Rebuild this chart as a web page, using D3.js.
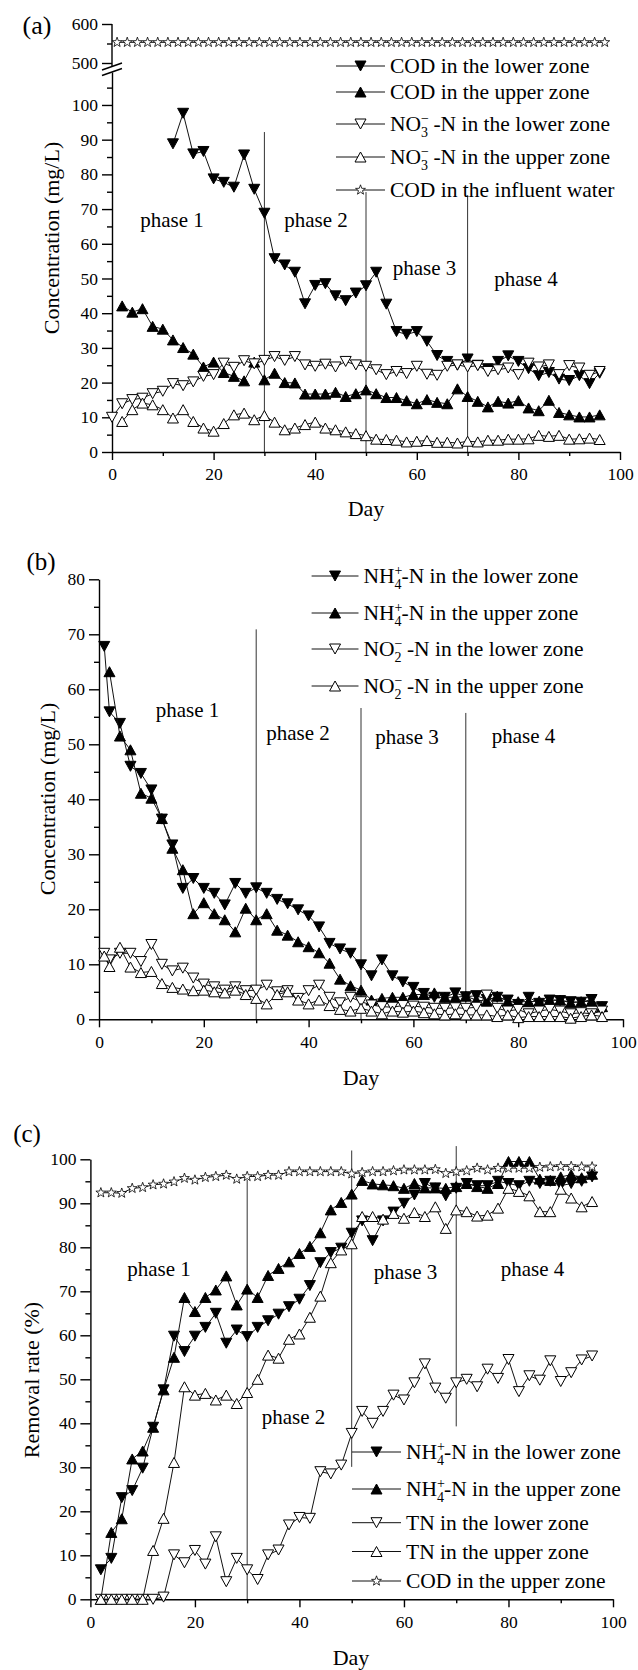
<!DOCTYPE html>
<html><head><meta charset="utf-8">
<script src="https://cdn.jsdelivr.net/npm/d3@7"></script>
<style>body{margin:0;background:#fff}svg{display:block}</style>
</head><body><svg id="c" width="638" height="1670"></svg>
<script>
// ---------------- DATA ----------------
// Panel (a) – concentrations (mg/L)
const aDaysCodLower = [12,14,16,18,20,22,24,26,28,30,32,34,36,38,40,42,44,46,48,50,52,54,56,58,60,62,64,66,68,70,72,74,76,78,80,82,84,86,88,90,92,94,96];
const aCodLower = [88.8,97.6,85.9,86.6,78.7,77.7,76.3,85.6,75.7,68.8,55.7,53.9,51.8,42.7,48,48.5,45,43.6,45.8,47.9,51.8,42.6,34.7,33.9,34.7,31.9,27.8,26.1,25,26.8,25,24,26.1,27.7,26.1,24,22,22.9,21,20.6,22,19.7,22.7];
const aDaysEven = [2,4,6,8,10,12,14,16,18,20,22,24,26,28,30,32,34,36,38,40,42,44,46,48,50,52,54,56,58,60,62,64,66,68,70,72,74,76,78,80,82,84,86,88,90,92,94,96];
const aCodUpper = [42.1,40.3,41.3,36.2,35.4,32.3,30.1,28.2,24.5,25.9,22.9,21.8,20.5,25.9,20.8,22.7,20,19.9,16.7,16.7,16.7,17.2,16,16.8,17.9,16.8,15.7,15.7,14.8,13.9,15.1,14.3,13.9,18.2,16,14.6,13,14.6,14.1,14.8,12.7,11.9,14.9,11.4,10.7,10.1,10.1,10.7];
const aDaysNo3Lower = [0,2,4,6,8,10,12,14,16,18,20,22,24,26,28,30,32,34,36,38,40,42,44,46,48,50,52,54,56,58,60,62,64,66,68,70,72,74,76,78,80,82,84,86,88,90,92,94,96];
const aNo3Lower = [10,13.9,15.1,15.5,16.8,17.5,19.7,19.1,20.2,21.8,22.3,25.6,24.4,26.3,25.4,26.4,27.5,26.4,27.5,25.1,24.7,25.3,24.5,26.1,25.1,24.7,23.7,22.3,23.2,22.6,24.7,22.4,22.1,24.7,25.1,24.5,24.9,23.2,23.7,24.2,22.3,25.6,24.5,25.1,22.3,24.9,24.2,22.1,23.2];
const aNo3Upper = [8.8,12.2,14.1,13.6,12.2,9.8,12.2,8.8,6.9,6,8.2,10.7,11.2,9.3,10.5,8.6,6.4,6.9,7.9,8.6,6.9,6.4,5.8,5.3,4.7,3.7,3.6,3.4,2.9,3.1,3.3,2.8,2.8,2.6,3.1,2.9,3.4,3.4,3.7,3.7,3.8,4.8,4.5,4.8,3.7,3.8,4,3.6];
const aDaysInf = [1,3,5,7,9,11,13,15,17,19,21,23,25,27,29,31,33,35,37,39,41,43,45,47,49,51,53,55,57,59,61,63,65,67,69,71,73,75,77,79,81,83,85,87,89,91,93,95,97];
const aCodInf = [553,553,553,553,553,553,553,553,553,553,553,553,553,553,553,553,553,553,553,553,553,553,553,553,553,553,553,553,553,553,553,553,553,553,553,553,553,553,553,553,553,553,553,553,553,553,553,553,553];

// Panel (b) – concentrations (mg/L)
const bDays = [1,2,4,6,8,10,12,14,16,18,20,22,24,26,28,30,32,34,36,38,40,42,44,46,48,50,52,54,56,58,60,62,64,66,68,70,72,74,76,78,80,82,84,86,88,90,92,94,96];
const bNh4Lower = [67.8,55.9,53.8,46,44.7,41.7,36.4,31.7,23.8,25.6,23.8,22.9,20.8,24.7,22.9,23.9,22.9,21.8,21,19.9,18.8,16.8,13.8,12.8,12,9.9,7.9,10.8,7.9,6.8,5.8,4.7,4,4,4.8,4.1,4.3,3.6,4,3.5,2.7,4,2.9,3.5,3.4,3.2,3.1,3.6,2.3];
const bDaysEven = [2,4,6,8,10,12,14,16,18,20,22,24,26,28,30,32,34,36,38,40,42,44,46,48,50,52,54,56,58,60,62,64,66,68,70,72,74,76,78,80,82,84,86,88,90,92,94,96];
const bNh4Upper = [63.2,51.5,49,41.1,40.2,36.5,31.1,27.2,19.2,21.2,19.2,18.1,15.9,20.2,18.1,19.2,16.2,15.3,14.1,13.2,12.1,10.2,7.3,6.1,5.3,3.5,3.8,4,4,4.5,4.5,4.8,4,4,4.2,3.5,3.3,4.2,3.3,3.2,3.2,3.3,3.5,3.5,3,3.2,3.3,2.3];
const bNo2Lower = [12,10.8,12,12,10.5,13.6,10,8.8,9.3,7.5,6.4,5.9,5.3,5.9,5.2,5.3,6.2,5,5.2,3.8,5.2,6.2,4,3,4,3.2,2.6,2.3,2.2,2.5,2.4,2.2,2,2,2.1,2,2.2,4.4,2,1.5,1.8,1,1.5,1.8,1.5,1,1.2,1,1.5];
const bNo2Upper = [11.5,9.6,13.1,9.5,8.5,8.7,6.5,5.8,5.5,5.2,5.3,5,4.8,5.3,4.5,3.8,2.8,4.5,5,3.5,2.8,3.5,2.5,1.8,1.5,2,1.5,1,1.5,1.3,1.5,1.2,1,0.8,1,0.8,0.8,0.8,0.5,0.8,0.3,0.5,0.5,0.5,0.5,0.2,0.5,0.8,0.5];

// Panel (c) – removal rates (%)
const cDays = [2,4,6,8,10,12,14,16,18,20,22,24,26,28,30,32,34,36,38,40,42,44,46,48,50,52,54,56,58,60,62,64,66,68,70,72,74,76,78,80,82,84,86,88,90,92,94,96];
const cNh4Lower = [6.7,9.3,23.1,24.7,29.8,39.1,47.6,59.8,56.3,59.8,61.8,65,58.2,61.2,59.7,61.8,63.3,64.8,66.5,68.2,71.3,76.5,78.8,79.8,83.2,86,81.5,86,88,90,91.9,94.5,93.5,91.7,93.4,94.5,94,94,95,94.5,94,95,94.5,95,94,94.5,95,96];
const cNh4Upper = [0,15.2,18.3,31.9,33.7,39.1,47.6,55,68.6,65.4,68.6,70.3,73.5,66.9,70.5,68.6,73.6,75.2,76.7,78.6,80.2,83.3,88.5,90.2,92.1,95.2,94.4,94.2,94,93.4,94.5,93.5,93.5,93.4,93.8,94.5,93.8,93.4,94.5,99.5,99.5,99.5,95.5,95.2,96,96.5,95.8,96.6];
const cTnLower = [0,0,0,0,0,0,0.5,10.1,8.3,11.1,8,14.2,4,9.3,6.7,4.5,10.1,11.2,16.9,18.6,18.4,29,28.5,30.5,37.7,42.7,40,42.7,46.4,45.3,49.2,53.5,48,45.7,49.2,50,48.3,52.3,50.2,54.5,47.2,50.8,49.8,54.2,49.5,51.5,54.4,55.3];
const cTnUpper = [0,0,0,0,0,11.1,18.4,31.1,48.3,46.4,46.8,45.3,46.4,44.5,47,50,55.5,54.8,59.1,60.3,64.1,68.9,76.5,79.4,80.8,87,87,86.4,87.7,86.6,87.9,87,89.2,84.3,88.5,88.1,87.1,87.3,88.9,93.4,92.7,91.7,88.1,88.1,93.2,91.2,89.2,90.4];
const cCodUpper = [92.4,92.4,92.3,93.4,93.6,94.2,94.4,94.9,95.7,95.3,95.9,96.1,96.4,95.5,96.1,96.1,96.4,96.4,97.2,97.2,97.2,97.2,97.2,97.2,96.7,97,97.2,97.2,97.4,97.6,97.6,97.6,97.7,96.8,97.2,97.4,98,97.6,98,98,98,98,98.2,98.3,98.4,98.4,98.3,98.3];

// Axis ticks
const xMajor = [0,20,40,60,80,100];
const xMinor = [10,30,50,70,90];
const aYMajor = [0,10,20,30,40,50,60,70,80,90,100];
const aYMinor = [5,15,25,35,45,55,65,75,85,95,105];
const aYHighMajor = [500,600];
const aYHighMinor = [550];
const bYMajor = [0,10,20,30,40,50,60,70,80];
const bYMinor = [5,15,25,35,45,55,65,75];
const cYMajor = [0,10,20,30,40,50,60,70,80,90,100];
const cYMinor = [5,15,25,35,45,55,65,75,85,95];
const phaseDays = [30,50,70];

// ---------------- DRAWING ----------------
const FONT = "'Liberation Serif','Times New Roman',serif";
const svg = d3.select('#c');
svg.append('rect').attr('width',638).attr('height',1670).attr('fill','#fff');

const W = 11, H = 10;
const SYM = {
  down: `M0,${H/2}L${W/2},${-H/2}L${-W/2},${-H/2}Z`,
  up: `M0,${-H/2}L${W/2},${H/2}L${-W/2},${H/2}Z`,
  star: (() => { const pts=[]; for(let i=0;i<10;i++){const r=i%2?2.1:5.2; const a=-Math.PI/2+i*Math.PI/5; pts.push([r*Math.cos(a), r*Math.sin(a)]);} return 'M'+pts.map(p=>p[0].toFixed(2)+','+p[1].toFixed(2)).join('L')+'Z'; })()
};

function series(g, x, y, days, vals, sym, filled) {
  const pts = days.map((d,i)=>[d, vals[i]]);
  g.append('path').datum(pts)
    .attr('d', d3.line().x(p=>x(p[0])).y(p=>y(p[1])))
    .attr('fill','none').attr('stroke','#111').attr('stroke-width',1);
  g.append('g').selectAll('path').data(pts).join('path')
    .attr('transform', p=>`translate(${x(p[0])},${y(p[1])})`)
    .attr('d', SYM[sym])
    .attr('fill', filled ? '#000' : '#fff')
    .attr('stroke','#000').attr('stroke-width', sym==='star'?0.8:1);
}

function styleAxis(g) {
  g.attr('font-family', FONT).attr('font-size', 17.5);
  g.selectAll('path,line').attr('stroke','#000').attr('stroke-width',1.4);
  g.selectAll('text').attr('fill','#000');
}

function xAxis(g, x, y0) {
  const ga = g.append('g').attr('transform',`translate(0,${y0})`);
  ga.call(d3.axisBottom(x).tickValues(xMajor).tickSize(8).tickSizeOuter(0).tickFormat(d3.format('d')));
  ga.append('g').call(d3.axisBottom(x).tickValues(xMinor).tickSize(4).tickFormat('')).select('.domain').remove();
  styleAxis(ga);
  ga.selectAll('text').attr('y',16).attr('dy','0.71em');
}
function yAxis(g, y, x0, majors, minors) {
  const ga = g.append('g').attr('transform',`translate(${x0},0)`);
  ga.call(d3.axisLeft(y).tickValues(majors).tickSize(10).tickPadding(4).tickSizeOuter(0).tickFormat(d3.format('d')));
  ga.append('g').call(d3.axisLeft(y).tickValues(minors).tickSize(5).tickFormat('')).select('.domain').remove();
  styleAxis(ga);
  return ga;
}

function label(g, txt, x, y, size, opts={}) {
  const t = g.append('text').attr('x',x).attr('y',y).attr('font-family',FONT).attr('font-size',size)
    .attr('fill','#000').attr('text-anchor', opts.anchor||'middle').text(txt);
  if (opts.rotate) t.attr('transform',`rotate(-90,${x},${y})`);
  return t;
}

function legendRow(g, lx0, lx1, y, sym, filled, parts) {
  g.append('line').attr('x1',lx0).attr('x2',lx1).attr('y1',y).attr('y2',y).attr('stroke','#111').attr('stroke-width',1);
  const mx = (lx0+lx1)/2;
  g.append('path').attr('transform',`translate(${mx},${y})`).attr('d',SYM[sym])
    .attr('fill',filled?'#000':'#fff').attr('stroke','#000').attr('stroke-width',sym==='star'?0.8:1);
  const t = g.append('text').attr('x',lx1+5).attr('y',y+7).attr('font-family',FONT).attr('font-size',21.5).attr('fill','#000');
  parts.forEach(p => {
    if (typeof p === 'string') { t.append('tspan').text(p); }
    else {
      // stacked superscript / subscript
      t.append('tspan').attr('dy',-8).attr('font-size',14).text(p.sup);
      t.append('tspan').attr('dx',-7.9).attr('dy',14).attr('font-size',14).text(p.sub);
      t.append('tspan').attr('dy',-6).text(p.after);
    }
  });
}

function phaseLines(g, x, y, tops, bottoms) {
  phaseDays.forEach((d,i)=>{
    g.append('line').attr('x1',x(d)).attr('x2',x(d)).attr('y1',y(tops[i])).attr('y2',y(bottoms[i]))
      .attr('stroke','#333').attr('stroke-width',1);
  });
}

// ===== Panel (a) =====
{
  const g = svg.append('g');
  const x = d3.scaleLinear([0,100],[112,620]);
  const y = d3.scaleLinear([0,109.5],[452,72]);
  const yH = d3.scaleLinear([500,600],[63,24]);
  phaseLines(g, x, y, [92.2,74.9,74], [0,0,0]);
  xAxis(g, x, 452);
  yAxis(g, y, 112, aYMajor, aYMinor);
  const gh = yAxis(g, yH, 112, aYHighMajor, aYHighMinor);
  gh.select('.domain').attr('d', `M0,${yH(600)}V66.5`);
  // axis break marks
  g.append('line').attr('x1',102).attr('y1',70).attr('x2',122).attr('y2',63).attr('stroke','#000').attr('stroke-width',1.4);
  g.append('line').attr('x1',102).attr('y1',75.5).attr('x2',122).attr('y2',68.5).attr('stroke','#000').attr('stroke-width',1.4);

  series(g, x, y, aDaysCodLower, aCodLower, 'down', true);
  series(g, x, y, aDaysEven, aCodUpper, 'up', true);
  series(g, x, y, aDaysNo3Lower, aNo3Lower, 'down', false);
  series(g, x, y, aDaysEven, aNo3Upper, 'up', false);
  series(g, x, yH, aDaysInf, aCodInf, 'star', false);

  label(g, 'phase 1', 172, 227, 21);
  label(g, 'phase 2', 316, 227, 21);
  label(g, 'phase 3', 424.5, 275, 21);
  label(g, 'phase 4', 526, 286, 21);
  label(g, 'Day', 366, 516, 22);
  label(g, 'Concentration (mg/L)', 59, 238, 22, {rotate:true});
  label(g, '(a)', 37, 34, 26);

  const L = g.append('g');
  legendRow(L, 336, 385, 66, 'down', true, ['COD in the lower zone']);
  legendRow(L, 336, 385, 92, 'up', true, ['COD in the upper zone']);
  legendRow(L, 336, 385, 124, 'down', false, ['NO', {sup:'−', sub:'3', after:' -N in the lower zone'}]);
  legendRow(L, 336, 385, 157, 'up', false, ['NO', {sup:'−', sub:'3', after:' -N in the upper zone'}]);
  legendRow(L, 336, 385, 190, 'star', false, ['COD in the influent water']);
}

// ===== Panel (b) =====
{
  const g = svg.append('g');
  const x = d3.scaleLinear([0,100],[99,623]);
  const y = d3.scaleLinear([0,80],[1019.3,579.3]);
  phaseLines(g, x, y, [70.9,56.6,55.7], [0,0,0]);
  xAxis(g, x, 1019.3);
  yAxis(g, y, 99, bYMajor, bYMinor);

  series(g, x, y, bDays, bNh4Lower, 'down', true);
  series(g, x, y, bDaysEven, bNh4Upper, 'up', true);
  series(g, x, y, bDays, bNo2Lower, 'down', false);
  series(g, x, y, bDays, bNo2Upper, 'up', false);

  label(g, 'phase 1', 187.5, 717, 21);
  label(g, 'phase 2', 298, 740, 21);
  label(g, 'phase 3', 407, 744, 21);
  label(g, 'phase 4', 523.5, 743, 21);
  label(g, 'Day', 361, 1085, 22);
  label(g, 'Concentration (mg/L)', 55, 799, 22, {rotate:true});
  label(g, '(b)', 41, 570, 25);

  const L = g.append('g');
  legendRow(L, 311.6, 358.5, 576, 'down', true, ['NH', {sup:'+', sub:'4', after:'-N in the lower zone'}]);
  legendRow(L, 311.6, 358.5, 613, 'up', true, ['NH', {sup:'+', sub:'4', after:'-N in the upper zone'}]);
  legendRow(L, 311.6, 358.5, 649, 'down', false, ['NO', {sup:'−', sub:'2', after:' -N in the lower zone'}]);
  legendRow(L, 311.6, 358.5, 686, 'up', false, ['NO', {sup:'−', sub:'2', after:' -N in the upper zone'}]);
}

// ===== Panel (c) =====
{
  const g = svg.append('g');
  const x = d3.scaleLinear([0,100],[90.4,613]);
  const y = d3.scaleLinear([0,100],[1599.3,1159.3]);
  phaseLines(g, x, y, [95.3,102,103], [0,30.1,39.3]);
  xAxis(g, x, 1599.3);
  yAxis(g, y, 90.4, cYMajor, cYMinor);

  series(g, x, y, cDays, cNh4Lower, 'down', true);
  series(g, x, y, cDays, cNh4Upper, 'up', true);
  series(g, x, y, cDays, cTnLower, 'down', false);
  series(g, x, y, cDays, cTnUpper, 'up', false);
  series(g, x, y, cDays, cCodUpper, 'star', false);

  label(g, 'phase 1', 159, 1276, 21);
  label(g, 'phase 3', 405.5, 1279, 21);
  label(g, 'phase 4', 532.5, 1276, 21);
  label(g, 'phase 2', 293.5, 1424, 21);
  label(g, 'Day', 351, 1665, 22);
  label(g, 'Removal rate (%)', 39, 1380, 22, {rotate:true});
  label(g, '(c)', 27, 1142, 25);

  const L = g.append('g');
  legendRow(L, 352, 401, 1452, 'down', true, ['NH', {sup:'+', sub:'4', after:'-N in the lower zone'}]);
  legendRow(L, 352, 401, 1489, 'up', true, ['NH', {sup:'+', sub:'4', after:'-N in the upper zone'}]);
  legendRow(L, 352, 401, 1522.7, 'down', false, ['TN in the lower zone']);
  legendRow(L, 352, 401, 1551.5, 'up', false, ['TN in the upper zone']);
  legendRow(L, 352, 401, 1581, 'star', false, ['COD in the upper zone']);
}
</script></body></html>
